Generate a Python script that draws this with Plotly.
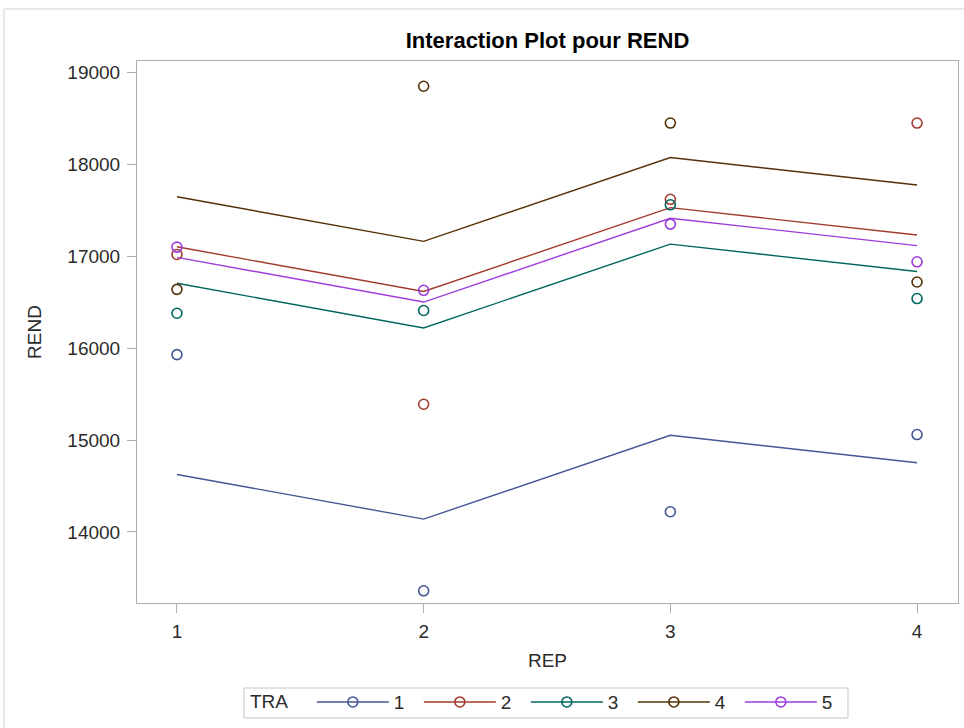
import plotly.graph_objects as go

# Replications (x axis) and treatments (one series each)
rep = [1, 2, 3, 4]
tra_labels = ["1", "2", "3", "4", "5"]

# Observed yields (REND) per treatment, one value per replication
rend_tra1 = [15930, 13360, 14220, 15060]
rend_tra2 = [17020, 15390, 17620, 18450]
rend_tra3 = [16380, 16410, 17560, 16540]
rend_tra4 = [16640, 18850, 18450, 16720]
rend_tra5 = [17100, 16630, 17350, 16940]

# Fitted values of the additive model TRA + REP (the profile lines)
fit_tra1 = [14626, 14140, 15052, 14754]
fit_tra2 = [17103, 16617, 17529, 17231]
fit_tra3 = [16706, 16220, 17132, 16834]
fit_tra4 = [17648, 17162, 18074, 17776]
fit_tra5 = [16988, 16502, 17414, 17116]

y_ticks = [14000, 15000, 16000, 17000, 18000, 19000]

observed = [rend_tra1, rend_tra2, rend_tra3, rend_tra4, rend_tra5]
fitted = [fit_tra1, fit_tra2, fit_tra3, fit_tra4, fit_tra5]
colors = ["#445694", "#A23A2E", "#01665E", "#543005", "#9D3CDB"]

FONT = "Liberation Sans, Arial, Helvetica, sans-serif"
AXIS_COLOR = "#aab0b6"
TEXT_COLOR = "#2b2b2b"

fig = go.Figure()

for lab, obs, fit, col in zip(tra_labels, observed, fitted, colors):
    fig.add_trace(go.Scatter(
        x=rep, y=fit, mode="lines",
        line=dict(color=col, width=1.4),
        showlegend=False, hoverinfo="skip",
    ))
    fig.add_trace(go.Scatter(
        x=rep, y=obs, mode="markers",
        marker=dict(symbol="circle-open", size=10, color=col,
                    line=dict(width=1.6, color=col)),
        showlegend=False, name=lab,
    ))

# Legend entries: line with an open circle, as in the profile plot key
for lab, col in zip(tra_labels, colors):
    fig.add_trace(go.Scatter(
        x=[None], y=[None], mode="lines+markers", name=lab,
        line=dict(color=col, width=1.4),
        marker=dict(symbol="circle-open", size=10, color=col,
                    line=dict(width=1.6, color=col)),
    ))

fig.update_layout(
    width=964, height=728,
    margin=dict(l=137, r=6, t=61, b=125, autoexpand=False),
    paper_bgcolor="white", plot_bgcolor="white",
    font=dict(family=FONT, color=TEXT_COLOR, size=18),
    title=dict(text="<b>Interaction Plot pour REND</b>",
               x=0.5, xref="paper", xanchor="center",
               y=1 - 40 / 728, yref="container", yanchor="middle",
               font=dict(size=22, color="#000000", family=FONT)),
    xaxis=dict(
        range=[0.838, 4.166], tickvals=rep, ticktext=[str(r) for r in rep],
        automargin=False,
        showgrid=False, zeroline=False,
        showline=True, mirror=True, linecolor=AXIS_COLOR, linewidth=1,
        ticks="outside", ticklen=9, tickcolor=AXIS_COLOR,
        ticklabelstandoff=2,
        tickfont=dict(size=19, color=TEXT_COLOR),
        title=dict(text="REP", font=dict(size=19, color=TEXT_COLOR), standoff=12),
    ),
    yaxis=dict(
        range=[13227, 19125], tickvals=y_ticks,
        ticktext=[str(v) for v in y_ticks],
        automargin=False,
        showgrid=False, zeroline=False,
        showline=True, mirror=True, linecolor=AXIS_COLOR, linewidth=1,
        ticks="outside", ticklen=9, tickcolor=AXIS_COLOR,
        ticklabelstandoff=3,
        tickfont=dict(size=19, color=TEXT_COLOR),
        title=dict(text="REND", font=dict(size=19, color=TEXT_COLOR), standoff=20),
    ),
    legend=dict(
        orientation="h", x=0.5, xanchor="center", y=-0.1478, yanchor="top",
        title=dict(text="TRA\u00a0\u00a0\u00a0", font=dict(size=19, color=TEXT_COLOR)),
        font=dict(size=19, color=TEXT_COLOR),
        borderwidth=0, bgcolor="rgba(0,0,0,0)",
        itemwidth=72, entrywidth=20, entrywidthmode="pixels",
        tracegroupgap=0,
    ),
    shapes=[
        # outer frame of the graph
        dict(type="rect", xref="paper", yref="paper",
             x0=-0.162, x1=1.03, y0=-0.3, y1=1.096,
             line=dict(color="#d4d4d4", width=1), fillcolor="rgba(0,0,0,0)",
             layer="below"),
        # box around the legend
        dict(type="rect", xref="paper", yref="paper",
             x0=0.1303, x1=0.866, y0=-0.2122, y1=-0.1568,
             line=dict(color="#c4c4c4", width=1), fillcolor="rgba(0,0,0,0)",
             layer="below"),
    ],
)

fig.write_html("out.html")
